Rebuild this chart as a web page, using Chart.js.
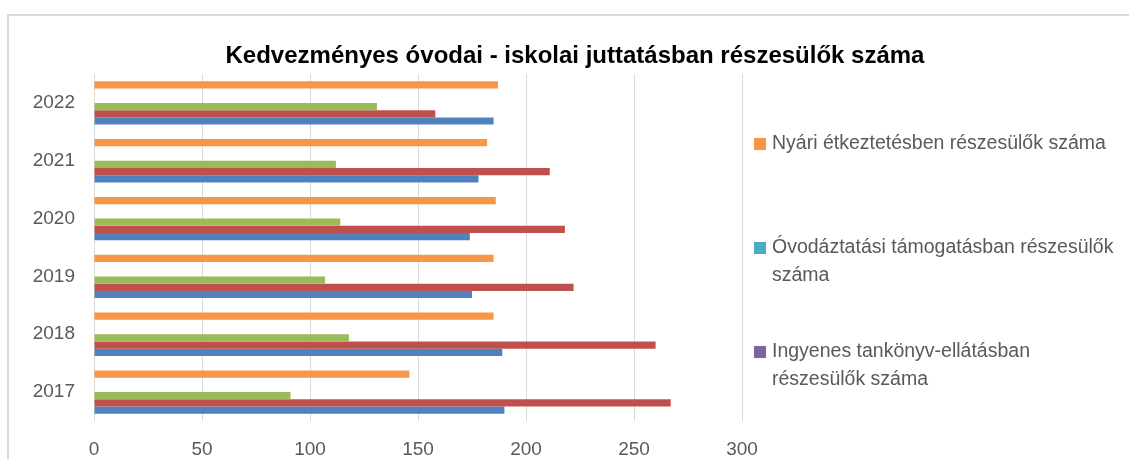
<!DOCTYPE html>
<html>
<head>
<meta charset="utf-8">
<script src="https://cdn.jsdelivr.net/npm/chart.js@4"></script>
<style>
html,body{margin:0;padding:0;background:#fff;overflow:hidden}
#wrap{position:relative;width:1129px;height:459px}
</style>
</head>
<body>
<div id="wrap"><canvas id="c" width="1129" height="459"></canvas></div>
<script>
// ---- data ----
const chartTitle = 'Kedvezményes óvodai - iskolai juttatásban részesülők száma';
const years = ['2022', '2021', '2020', '2019', '2018', '2017'];
const seriesNames = [
  'Nyári étkeztetésben részesülők száma',
  'Óvodáztatási támogatásban részesülők száma',
  'Ingyenes tankönyv-ellátásban részesülők száma',
  '3. adatsor',
  '2. adatsor',
  '1. adatsor'
];
const nyariEtkeztetes = [187, 182, 186, 185, 185, 146];
const ovodaztatasi    = [0, 0, 0, 0, 0, 0];
const ingyenesTankonyv = [0, 0, 0, 0, 0, 0];
const zoldSorozat  = [131, 112, 114, 107, 118, 91];
const pirosSorozat = [158, 211, 218, 222, 260, 267];
const kekSorozat   = [185, 178, 174, 175, 189, 190];
const xMin = 0, xMax = 300, xStep = 50;

const seriesValues = [nyariEtkeztetes, ovodaztatasi, ingyenesTankonyv, zoldSorozat, pirosSorozat, kekSorozat];
const seriesColors = ['#f79646', '#4bacc6', '#8064a2', '#9bbb59', '#c0504d', '#4f81bd'];

const FONT = 'Liberation Sans, Arial, sans-serif';

const framePlugin = {
  id: 'frame',
  beforeDraw(chart) {
    const c = chart.ctx;
    c.save();
    c.fillStyle = '#ffffff';
    c.fillRect(0, 0, chart.width, chart.height);
    c.strokeStyle = '#d9d9d9';
    c.lineWidth = 2;
    c.beginPath();
    c.moveTo(8, chart.height);
    c.lineTo(8, 15);
    c.lineTo(chart.width, 15);
    c.stroke();
    c.restore();
  }
};

const titlePlugin = {
  id: 'centerTitle',
  afterDraw(chart) {
    const c = chart.ctx;
    c.save();
    c.font = 'bold 24px ' + FONT;
    c.fillStyle = '#000000';
    c.textAlign = 'center';
    c.textBaseline = 'middle';
    c.fillText(chartTitle, 575, 56);
    c.restore();
  }
};

function wrapText(c, text, maxW) {
  const words = text.split(' ');
  const lines = [];
  let cur = '';
  for (const w of words) {
    const t = cur ? cur + ' ' + w : w;
    if (cur && c.measureText(t).width > maxW) { lines.push(cur); cur = w; }
    else cur = t;
  }
  if (cur) lines.push(cur);
  return lines;
}

const legendPlugin = {
  id: 'sideLegend',
  afterDraw(chart) {
    const c = chart.ctx;
    const area = chart.chartArea;
    c.save();
    c.font = '19.5px ' + FONT;
    c.textBaseline = 'middle';
    c.textAlign = 'left';
    const x0 = area.right + 12;
    const startY = area.top + 70;
    const step = 104;
    const lineH = 27.5;
    chart.data.datasets.forEach((ds, i) => {
      const y = startY + i * step;
      if (y + 20 > chart.height) return;
      c.fillStyle = ds.backgroundColor;
      c.fillRect(x0, y - 6, 12, 12);
      c.fillStyle = '#595959';
      const lines = wrapText(c, ds.label, 346);
      lines.forEach((ln, k) => c.fillText(ln, x0 + 18, y + k * lineH));
    });
    c.restore();
  }
};

const datasets = seriesValues.map((vals, i) => ({
  label: seriesNames[i],
  data: vals,
  backgroundColor: seriesColors[i],
  borderWidth: 0,
  categoryPercentage: 0.75,
  barPercentage: 1.0
}));

new Chart(document.getElementById('c').getContext('2d'), {
  type: 'bar',
  data: { labels: years, datasets },
  options: {
    indexAxis: 'y',
    responsive: false,
    animation: false,
    layout: { padding: { left: 0, right: 387, top: 74, bottom: 0 } },
    plugins: {
      legend: { display: false },
      tooltip: { enabled: false },
      title: { display: false }
    },
    scales: {
      x: {
        min: xMin, max: xMax,
        ticks: { stepSize: xStep, color: '#595959', font: { family: FONT, size: 19 }, padding: 17 },
        grid: { color: '#d9d9d9', lineWidth: 1, drawTicks: false },
        border: { display: false },
        afterFit(s) { s.height = 38; }
      },
      y: {
        ticks: { color: '#595959', font: { family: FONT, size: 19 }, padding: 19 },
        grid: { display: false, drawTicks: false },
        border: { display: false },
        afterFit(s) { s.width = 94; }
      }
    }
  },
  plugins: [framePlugin, titlePlugin, legendPlugin]
});
</script>
</body>
</html>
